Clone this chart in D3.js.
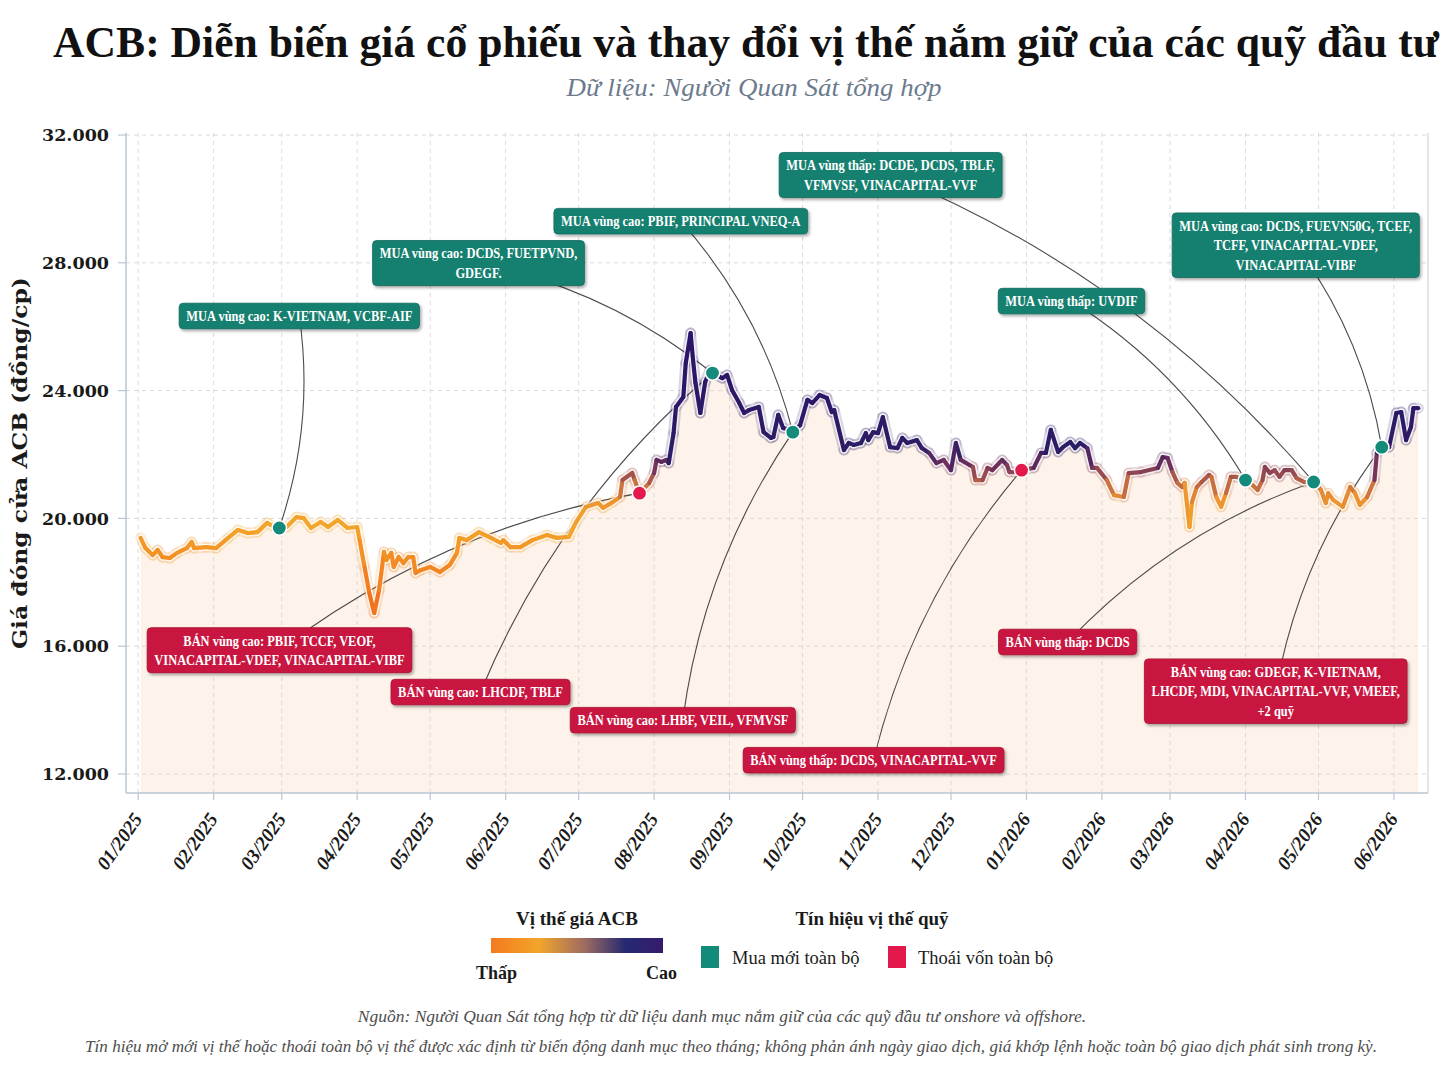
<!DOCTYPE html>
<html><head><meta charset="utf-8">
<script src="https://cdn.jsdelivr.net/npm/d3@7"></script>
<style>
html,body{margin:0;padding:0;background:#fff;}
svg{display:block;}
</style></head>
<body>
<svg id="chart" width="1448" height="1086"></svg>
<script>
// ---------------- DATA ----------------
const dates = ["2025-01-02","2025-01-04","2025-01-07","2025-01-09","2025-01-11","2025-01-14","2025-01-17","2025-01-21","2025-01-23","2025-01-24","2025-01-29","2025-02-02","2025-02-07","2025-02-11","2025-02-15","2025-02-19","2025-02-23","2025-02-26","2025-02-28","2025-03-03","2025-03-07","2025-03-10","2025-03-13","2025-03-17","2025-03-20","2025-03-24","2025-03-28","2025-04-01","2025-04-02","2025-04-04","2025-04-06","2025-04-08","2025-04-10","2025-04-12","2025-04-13","2025-04-15","2025-04-16","2025-04-18","2025-04-20","2025-04-22","2025-04-24","2025-04-25","2025-04-27","2025-05-01","2025-05-05","2025-05-09","2025-05-12","2025-05-13","2025-05-16","2025-05-21","2025-05-26","2025-05-30","2025-05-31","2025-06-03","2025-06-07","2025-06-12","2025-06-18","2025-06-22","2025-06-27","2025-06-30","2025-07-04","2025-07-09","2025-07-11","2025-07-15","2025-07-18","2025-07-19","2025-07-23","2025-07-24","2025-07-26","2025-07-30","2025-08-01","2025-08-02","2025-08-04","2025-08-06","2025-08-07","2025-08-09","2025-08-10","2025-08-13","2025-08-14","2025-08-16","2025-08-17","2025-08-18","2025-08-20","2025-08-22","2025-08-24","2025-08-25","2025-08-29","2025-08-31","2025-09-02","2025-09-05","2025-09-07","2025-09-09","2025-09-13","2025-09-15","2025-09-18","2025-09-19","2025-09-21","2025-09-23","2025-09-26","2025-09-27","2025-09-30","2025-10-03","2025-10-05","2025-10-08","2025-10-11","2025-10-13","2025-10-14","2025-10-18","2025-10-20","2025-10-22","2025-10-25","2025-10-27","2025-10-28","2025-10-30","2025-11-01","2025-11-03","2025-11-06","2025-11-09","2025-11-11","2025-11-13","2025-11-17","2025-11-19","2025-11-22","2025-11-25","2025-11-28","2025-12-01","2025-12-03","2025-12-05","2025-12-10","2025-12-11","2025-12-14","2025-12-16","2025-12-18","2025-12-22","2025-12-24","2025-12-25","2025-12-27","2025-12-30","2026-01-04","2026-01-07","2026-01-09","2026-01-11","2026-01-14","2026-01-16","2026-01-19","2026-01-21","2026-01-23","2026-01-26","2026-01-28","2026-01-30","2026-02-03","2026-02-06","2026-02-10","2026-02-12","2026-02-17","2026-02-24","2026-02-26","2026-02-28","2026-03-02","2026-03-04","2026-03-06","2026-03-07","2026-03-09","2026-03-10","2026-03-12","2026-03-14","2026-03-17","2026-03-18","2026-03-20","2026-03-22","2026-03-24","2026-03-26","2026-03-28","2026-04-01","2026-04-04","2026-04-06","2026-04-08","2026-04-09","2026-04-11","2026-04-13","2026-04-15","2026-04-17","2026-04-20","2026-04-22","2026-04-25","2026-04-29","2026-05-02","2026-05-04","2026-05-05","2026-05-07","2026-05-11","2026-05-14","2026-05-16","2026-05-18","2026-05-21","2026-05-24","2026-05-25","2026-05-27","2026-05-30","2026-06-02","2026-06-04","2026-06-06","2026-06-08","2026-06-09","2026-06-11"];
const prices = [19390,19070,18850,19010,18790,18760,18920,19070,19260,19070,19100,19070,19390,19640,19540,19570,19860,19730,19700,19730,20040,20010,19700,19890,19730,19950,19700,19730,19320,18480,17660,17040,17760,18950,18700,18920,18480,18790,18600,18790,18790,18290,18380,18480,18320,18540,18920,19390,19320,19570,19390,19230,19320,19100,19100,19320,19480,19390,19420,19890,20360,20480,20330,20510,20670,21200,21420,21200,20790,21110,21420,21830,21770,21830,21730,22670,23490,23800,24860,25800,24960,24240,23300,24270,24640,24550,24390,24490,24020,23610,23300,23390,23490,22700,22520,22550,23240,22830,22770,22700,22920,23710,23610,23860,23770,23330,23390,22140,22360,22300,22360,22670,22450,22700,22670,23170,22230,22200,22520,22360,22450,22200,22050,21730,21830,21510,22360,21830,21610,21200,21200,21580,21510,21830,21670,21450,21450,21510,21580,22050,22050,22770,22080,22230,22390,22200,22360,22200,21580,21580,21200,20730,20670,21420,21450,21580,21920,21890,21450,21110,20980,21110,19730,20510,20980,21140,21360,21300,20670,20360,20790,21300,21300,21200,21040,20890,21200,21610,21420,21510,21300,21510,21510,21260,21140,21140,20890,20480,20790,20580,20360,20980,20790,20420,20670,21200,22050,22230,22230,23300,23330,22450,22860,23450,23450];

const buyDates  = ["2025-02-28","2025-08-25","2025-09-27","2026-04-01","2026-04-29","2026-05-27"];
const sellDates = ["2025-07-26","2025-12-30"];

const yTicks = [12000,16000,20000,24000,28000,32000];
const xTickMonths = ["2025-01","2025-02","2025-03","2025-04","2025-05","2025-06","2025-07","2025-08","2025-09","2025-10","2025-11","2025-12","2026-01","2026-02","2026-03","2026-04","2026-05","2026-06"];
const xTickLabels = ["01/2025","02/2025","03/2025","04/2025","05/2025","06/2025","07/2025","08/2025","09/2025","10/2025","11/2025","12/2025","01/2026","02/2026","03/2026","04/2026","05/2026","06/2026"];

const annTypes   = ["buy","buy","buy","buy","buy","buy","sell","sell","sell","sell","sell","sell"];
const annDates   = ["2025-02-28","2025-08-25","2025-09-27","2026-04-29","2026-04-01","2026-05-27","2025-07-26","2025-08-25","2025-09-27","2025-12-30","2026-04-29","2026-05-27"];
const annTexts   = [
  ["MUA vùng cao: K-VIETNAM, VCBF-AIF"],
  ["MUA vùng cao: DCDS, FUETPVND,","GDEGF."],
  ["MUA vùng cao: PBIF, PRINCIPAL VNEQ-A"],
  ["MUA vùng thấp: DCDE, DCDS, TBLF,","VFMVSF, VINACAPITAL-VVF"],
  ["MUA vùng thấp: UVDIF"],
  ["MUA vùng cao: DCDS, FUEVN50G, TCEF,","TCFF, VINACAPITAL-VDEF,","VINACAPITAL-VIBF"],
  ["BÁN vùng cao: PBIF, TCCF, VEOF,","VINACAPITAL-VDEF, VINACAPITAL-VIBF"],
  ["BÁN vùng cao: LHCDF, TBLF"],
  ["BÁN vùng cao: LHBF, VEIL, VFMVSF"],
  ["BÁN vùng thấp: DCDS, VINACAPITAL-VVF"],
  ["BÁN vùng thấp: DCDS"],
  ["BÁN vùng cao: GDEGF, K-VIETNAM,","LHCDF, MDI, VINACAPITAL-VVF, VMEEF,","+2 quỹ"]
];
// box centre offsets from the target point, in pixels
const annOffX = [20,-234,-112,-423,-174,-86,-360,-232,-110,-148,-246,-106];
const annOffY = [-212,-110,-211,-307,-179,-202,157,319,288,290,160,244];

// ---------------- LAYOUT ----------------
const M = {left:126, right:1428, top:133, bottom:793};
const svg = d3.select("#chart");
const parse = d3.timeParse("%Y-%m-%d");
const parseM = d3.timeParse("%Y-%m");
const SERIF = "'Liberation Serif','Times New Roman',serif";
const SERIF2 = "'DejaVu Serif','Liberation Serif',serif";

const data = dates.map((d,i)=>({date:parse(d), v:prices[i], key:d}));
const valueAt = {}; data.forEach(d=>valueAt[d.key]=d.v);

const x = d3.scaleTime().domain([parse("2024-12-27"), parse("2026-06-15")]).range([M.left, M.right]);
const y = d3.scaleLinear().domain([11405, 32063]).range([M.bottom, M.top]);

const color = d3.scaleLinear()
  .domain([17000,18500,19800,20600,21200,21700,22200,26000])
  .range(["#f06d1c","#f28822","#f3a62b","#ec9330","#b45e48","#6a2d5c","#2d1c66","#2c1268"])
  .interpolate(d3.interpolateRgb);

// text placed in a group, horizontally scaled to a target width (condensed look)
function fitText(parent, cx, cy, str, targetW, attrs, anchor){
  const g = parent.append("g");
  const t = g.append("text").attr("x",0).attr("y",0).attr("text-anchor",anchor||"middle").text(str);
  Object.entries(attrs).forEach(([k,v])=>t.attr(k,v));
  const w = t.node().getComputedTextLength();
  const s = targetW ? targetW/w : 1;
  g.attr("transform",`translate(${cx},${cy}) scale(${s},1)`);
  return {g, w: w*s};
}

const defs = svg.append("defs");
const shadow = defs.append("filter").attr("id","shadow").attr("x","-10%").attr("y","-30%").attr("width","120%").attr("height","170%");
shadow.append("feDropShadow").attr("dx",1.5).attr("dy",2).attr("stdDeviation",1.6).attr("flood-color","#000").attr("flood-opacity",0.35);
const lg = defs.append("linearGradient").attr("id","legGrad");
[["0%","#f47a1f"],["28%","#f2a52b"],["55%","#9b6a62"],["78%","#252a72"],["100%","#371a6c"]]
  .forEach(s=>lg.append("stop").attr("offset",s[0]).attr("stop-color",s[1]));

// plot background
svg.append("rect").attr("x",M.left).attr("y",M.top).attr("width",M.right-M.left).attr("height",M.bottom-M.top).attr("fill","#fff");

// area
const area = d3.area().x(d=>x(d.date)).y0(y(y.domain()[0])).y1(d=>y(d.v));
svg.append("path").datum(data).attr("d",area).attr("fill","#fdf3ea");

// grid
const gGrid = svg.append("g");
xTickMonths.forEach(m=>{
  const xx = x(parseM(m));
  gGrid.append("line").attr("x1",xx).attr("x2",xx).attr("y1",M.top).attr("y2",M.bottom)
    .attr("stroke","#d9d9d9").attr("stroke-width",1).attr("stroke-dasharray","4,4");
});
yTicks.forEach(t=>{
  gGrid.append("line").attr("x1",M.left).attr("x2",M.right).attr("y1",y(t)).attr("y2",y(t))
    .attr("stroke","#d9d9d9").attr("stroke-width",1).attr("stroke-dasharray","4,4");
});

// frame
const frameC = "#b9c6d3";
svg.append("line").attr("x1",M.left).attr("x2",M.left).attr("y1",M.top).attr("y2",M.bottom).attr("stroke",frameC).attr("stroke-width",1.5);
svg.append("line").attr("x1",M.right).attr("x2",M.right).attr("y1",M.top).attr("y2",M.bottom).attr("stroke","#cfd6de").attr("stroke-width",1.2);
svg.append("line").attr("x1",M.left).attr("x2",M.right).attr("y1",M.bottom).attr("y2",M.bottom).attr("stroke",frameC).attr("stroke-width",1.5);

// y axis ticks + labels
const fmt = d3.formatLocale({decimal:",",thousands:".",grouping:[3],currency:["",""]}).format(",d");
yTicks.forEach(t=>{
  svg.append("line").attr("x1",M.left-8).attr("x2",M.left).attr("y1",y(t)).attr("y2",y(t)).attr("stroke",frameC).attr("stroke-width",1.2);
  svg.append("text").attr("x",M.left-17).attr("y",y(t)).attr("dy","0.35em").attr("text-anchor","end")
    .attr("font-family",SERIF2).attr("font-weight","bold").attr("font-size",17.5).attr("fill","#1a1a1a").text(fmt(t));
});
{
  const gy = svg.append("g").attr("transform",`translate(27,463) rotate(-90)`);
  fitText(gy, 0, 0, "Giá đóng cửa ACB (đồng/cp)", 372,
    {"font-family":SERIF2,"font-weight":"bold","font-size":21,"fill":"#1a1a1a"});
}

// x axis ticks + labels
xTickMonths.forEach((m,i)=>{
  const xx = x(parseM(m));
  svg.append("line").attr("x1",xx).attr("x2",xx).attr("y1",M.bottom).attr("y2",M.bottom+7).attr("stroke",frameC).attr("stroke-width",1.2);
  svg.append("text").attr("transform",`translate(${xx+5},${M.bottom+26}) rotate(-55)`).attr("text-anchor","end")
    .attr("font-family",SERIF).attr("font-weight","bold").attr("font-style","italic").attr("font-size",19.5)
    .attr("fill","#1a1a1a").text(xTickLabels[i]);
});

// ---------- annotations connectors ----------
const rad = 0.12;
const gConn = svg.append("g");
const annBoxes = [];
annTexts.forEach((lines,i)=>{
  const tx = x(parse(annDates[i])), ty = y(valueAt[annDates[i]]);
  const cx = tx + annOffX[i], cy = ty + annOffY[i];
  const ddx = tx-cx, ddy = ty-cy;
  const mx=(cx+tx)/2, my=(cy+ty)/2;
  const qx = mx + rad*ddy, qy = my - rad*ddx;
  gConn.append("path").attr("d",`M${cx},${cy} Q${qx},${qy} ${tx},${ty}`)
    .attr("fill","none").attr("stroke","#4a4a4a").attr("stroke-width",1.1);
  annBoxes.push({cx,cy,lines,type:annTypes[i]});
});

// ---------- price line ----------
const gLine = svg.append("g");
const segs = d3.pairs(data);
segs.forEach(([a,b])=>{
  gLine.append("line").attr("x1",x(a.date)).attr("y1",y(a.v)).attr("x2",x(b.date)).attr("y2",y(b.v))
    .attr("stroke",color((a.v+b.v)/2)).attr("stroke-opacity",0.18).attr("stroke-width",11).attr("stroke-linecap","round");
});
segs.forEach(([a,b])=>{
  gLine.append("line").attr("x1",x(a.date)).attr("y1",y(a.v)).attr("x2",x(b.date)).attr("y2",y(b.v))
    .attr("stroke","#fff").attr("stroke-opacity",0.7).attr("stroke-width",7).attr("stroke-linecap","round");
});
segs.forEach(([a,b])=>{
  gLine.append("line").attr("x1",x(a.date)).attr("y1",y(a.v)).attr("x2",x(b.date)).attr("y2",y(b.v))
    .attr("stroke",color((a.v+b.v)/2)).attr("stroke-width",4.2).attr("stroke-linecap","round");
});

// ---------- signal dots ----------
sellDates.forEach(d=>{
  svg.append("circle").attr("cx",x(parse(d))).attr("cy",y(valueAt[d])).attr("r",7.2)
    .attr("fill","#e3194b").attr("stroke","#fff").attr("stroke-width",1.6);
});
buyDates.forEach(d=>{
  svg.append("circle").attr("cx",x(parse(d))).attr("cy",y(valueAt[d])).attr("r",7.2)
    .attr("fill","#138a7a").attr("stroke","#fff").attr("stroke-width",1.6);
});

// ---------- annotation boxes ----------
const gBox = svg.append("g");
const squeeze = 0.83, fs = 15, lh = 19.5;
annBoxes.forEach(b=>{
  const g = gBox.append("g");
  const rect = g.append("rect");
  const n = b.lines.length;
  let maxW = 0;
  b.lines.forEach((t,j)=>{
    const tmp = g.append("text").attr("font-family",SERIF).attr("font-weight","bold").attr("font-size",fs).text(t);
    const w = tmp.node().getComputedTextLength(); tmp.remove();
    const r = fitText(g, b.cx, b.cy + (j-(n-1)/2)*lh, t, w*squeeze,
      {"font-family":SERIF,"font-weight":"bold","font-size":fs,"fill":"#fff","dy":"0.34em"});
    maxW = Math.max(maxW, r.w);
  });
  const bw = maxW + 14, bh = n*lh + 6;
  rect.attr("x",b.cx-bw/2).attr("y",b.cy-bh/2).attr("width",bw).attr("height",bh).attr("rx",4)
    .attr("fill", b.type==="buy" ? "#15806f" : "#c9163f")
    .attr("stroke", b.type==="buy" ? "#0f6a5c" : "#a8102f").attr("stroke-width",0.8)
    .attr("filter","url(#shadow)");
});

// ---------- titles ----------
fitText(svg, 746, 57, "ACB: Diễn biến giá cổ phiếu và thay đổi vị thế nắm giữ của các quỹ đầu tư", 1386,
  {"font-family":SERIF,"font-weight":"bold","font-size":44,"fill":"#111"});
fitText(svg, 754, 96, "Dữ liệu: Người Quan Sát tổng hợp", 375,
  {"font-family":SERIF,"font-style":"italic","font-size":25,"fill":"#6b7b8d"});

// ---------- legend ----------
svg.append("text").attr("x",577).attr("y",925).attr("text-anchor","middle")
  .attr("font-family",SERIF).attr("font-weight","bold").attr("font-size",19).attr("fill","#1a1a1a").text("Vị thế giá ACB");
svg.append("rect").attr("x",491).attr("y",938).attr("width",172).attr("height",15).attr("fill","url(#legGrad)");
svg.append("text").attr("x",476).attr("y",979).attr("font-family",SERIF).attr("font-weight","bold").attr("font-size",18).attr("fill","#1a1a1a").text("Thấp");
svg.append("text").attr("x",677).attr("y",979).attr("text-anchor","end").attr("font-family",SERIF).attr("font-weight","bold").attr("font-size",18).attr("fill","#1a1a1a").text("Cao");
svg.append("text").attr("x",872).attr("y",925).attr("text-anchor","middle")
  .attr("font-family",SERIF).attr("font-weight","bold").attr("font-size",19).attr("fill","#1a1a1a").text("Tín hiệu vị thế quỹ");
svg.append("rect").attr("x",701).attr("y",946).attr("width",18).attr("height",22).attr("fill","#138a7a");
svg.append("text").attr("x",732).attr("y",964).attr("font-family",SERIF).attr("font-size",18.5).attr("fill","#1a1a1a").text("Mua mới toàn bộ");
svg.append("rect").attr("x",888).attr("y",946).attr("width",18).attr("height",22).attr("fill","#e3194b");
svg.append("text").attr("x",918).attr("y",964).attr("font-family",SERIF).attr("font-size",18.5).attr("fill","#1a1a1a").text("Thoái vốn toàn bộ");

// ---------- footnotes ----------
fitText(svg, 722, 1022, "Nguồn: Người Quan Sát tổng hợp từ dữ liệu danh mục nắm giữ của các quỹ đầu tư onshore và offshore.", 729,
  {"font-family":SERIF,"font-style":"italic","font-size":16.5,"fill":"#4d4d4d"});
fitText(svg, 731, 1052, "Tín hiệu mở mới vị thế hoặc thoái toàn bộ vị thế được xác định từ biến động danh mục theo tháng; không phản ánh ngày giao dịch, giá khớp lệnh hoặc toàn bộ giao dịch phát sinh trong kỳ.", 1293,
  {"font-family":SERIF,"font-style":"italic","font-size":16.5,"fill":"#4d4d4d"});
</script>
</body></html>
